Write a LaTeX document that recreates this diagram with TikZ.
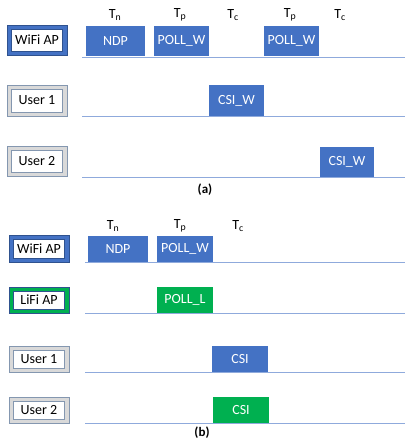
\documentclass[tikz,border=0pt]{standalone}
\usepackage{fontspec}
\setmainfont{Carlito}
\definecolor{wblue}{HTML}{4472C4}
\definecolor{wgreen}{HTML}{00B050}
\definecolor{edgeblue}{HTML}{2F528F}
\definecolor{greyband}{HTML}{D9D9D9}
\definecolor{greyedge}{HTML}{8497B0}
\definecolor{axis}{HTML}{8FAADC}
\tikzset{
  blk/.style={fill=wblue, text=white, inner sep=0pt, font=\fontsize{14}{16}\selectfont},
  gblk/.style={blk, fill=wgreen},
  outerbox/.style={inner sep=0pt, line width=0.6pt},
  wifiouter/.style={outerbox, fill=wblue, draw=edgeblue},
  lifiouter/.style={outerbox, fill=wgreen, draw=edgeblue},
  userouter/.style={outerbox, fill=greyband, draw=greyedge},
  innerbox/.style={fill=white, inner sep=0pt, line width=0.6pt, font=\fontsize{14}{16}\selectfont},
  tlabel/.style={font=\fontsize{14}{16}\selectfont, inner sep=0pt},
  timeline/.style={draw=axis, line width=0.9pt},
  caption/.style={font=\fontsize{13}{15}\selectfont\bfseries, inner sep=0pt}
}
\begin{document}
\begin{tikzpicture}[x=1pt, y=-1pt]
\useasboundingbox (0,0) rectangle (405,445);

% ---------- (a) WiFi only ----------
\node[tlabel] (ta1) at (115,15) {T\textsubscript{n}};
\node[tlabel] (ta2) at (180,15) {T\textsubscript{p}};
\node[tlabel] (ta3) at (233,15) {T\textsubscript{c}};
\node[tlabel] (ta4) at (290,15) {T\textsubscript{p}};
\node[tlabel] (ta5) at (340,15) {T\textsubscript{c}};

\node[wifiouter, minimum width=60, minimum height=30] (aapo) at (37,40) {};
\node[innerbox, draw=edgeblue, minimum width=51, minimum height=22] (aap) at (37,40) {WiFi AP};
\coordinate (aal0) at (82,57);
\coordinate (aal1) at (405,57);
\draw[timeline] (aal0) -- (aal1);
\node[blk, minimum width=59, minimum height=30] (andp) at (115.5,41) {NDP};
\node[blk, minimum width=55, minimum height=30] (apw1) at (181.5,41) {POLL\_W};
\node[blk, minimum width=55, minimum height=30] (apw2) at (291.5,41) {POLL\_W};

\node[userouter, minimum width=60, minimum height=31] (au1o) at (37,100.5) {};
\node[innerbox, draw=greyedge, minimum width=51, minimum height=23] (au1) at (37,100.5) {User 1};
\coordinate (au1l0) at (82,116.5);
\coordinate (au1l1) at (405,116.5);
\draw[timeline] (au1l0) -- (au1l1);
\node[blk, minimum width=55, minimum height=31] (acsi1) at (236.5,100.5) {CSI\_W};

\node[userouter, minimum width=60, minimum height=30] (au2o) at (37,161) {};
\node[innerbox, draw=greyedge, minimum width=51, minimum height=22] (au2) at (37,161) {User 2};
\coordinate (au2l0) at (82,177.5);
\coordinate (au2l1) at (405,177.5);
\draw[timeline] (au2l0) -- (au2l1);
\node[blk, minimum width=54, minimum height=30] (acsi2) at (347,162) {CSI\_W};

\node[caption] (capa) at (205,190) {(a)};

% ---------- (b) WiFi + LiFi ----------
\node[tlabel] (tb1) at (113,226) {T\textsubscript{n}};
\node[tlabel] (tb2) at (180,226) {T\textsubscript{p}};
\node[tlabel] (tb3) at (238,226) {T\textsubscript{c}};

\node[wifiouter, minimum width=60, minimum height=27] (bapo) at (39,248.5) {};
\node[innerbox, draw=edgeblue, minimum width=51, minimum height=19] (bap) at (39,248.5) {WiFi AP};
\coordinate (bwl0) at (85,262.5);
\coordinate (bwl1) at (405,262.5);
\draw[timeline] (bwl0) -- (bwl1);
\node[blk, minimum width=60, minimum height=26] (bndp) at (118,249) {NDP};
\node[blk, minimum width=56, minimum height=26] (bpw) at (185,249) {POLL\_W};

\node[lifiouter, minimum width=60, minimum height=26] (blapo) at (39,300) {};
\node[innerbox, draw=edgeblue, minimum width=51, minimum height=18] (blap) at (39,300) {LiFi AP};
\coordinate (bll0) at (85,313.5);
\coordinate (bll1) at (405,313.5);
\draw[timeline] (bll0) -- (bll1);
\node[gblk, minimum width=56, minimum height=26] (bpl) at (185,300) {POLL\_L};

\node[userouter, minimum width=60, minimum height=26] (bu1o) at (39,359) {};
\node[innerbox, draw=greyedge, minimum width=51, minimum height=18] (bu1) at (39,359) {User 1};
\coordinate (bu1l0) at (85,372.5);
\coordinate (bu1l1) at (405,372.5);
\draw[timeline] (bu1l0) -- (bu1l1);
\node[blk, minimum width=56, minimum height=26] (bcsi1) at (240,359) {CSI};

\node[userouter, minimum width=60, minimum height=26] (bu2o) at (39,410) {};
\node[innerbox, draw=greyedge, minimum width=51, minimum height=18] (bu2) at (39,410) {User 2};
\coordinate (bu2l0) at (85,423.5);
\coordinate (bu2l1) at (405,423.5);
\draw[timeline] (bu2l0) -- (bu2l1);
\node[gblk, minimum width=56, minimum height=26] (bcsi2) at (241,410) {CSI};

\node[caption] (capb) at (202,433) {(b)};
\end{tikzpicture}
\end{document}
